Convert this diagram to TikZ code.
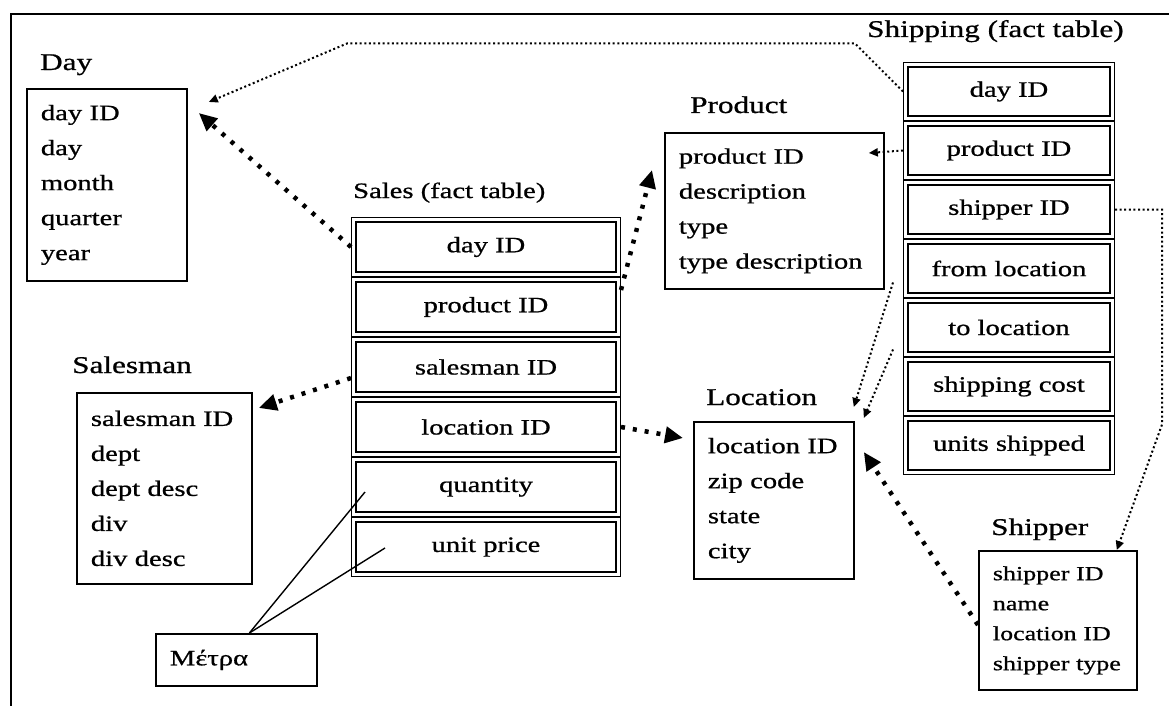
\documentclass[tikz,border=0pt]{standalone}
\usepackage{fontspec}
\setmainfont{Liberation Serif}[FakeStretch=1.3,FakeBold=0.8]
\usetikzlibrary{arrows.meta}

\begin{document}
\begin{tikzpicture}[x=1pt,y=-1pt,
    every node/.style={font=\fontsize{22pt}{35pt}\selectfont},
    title/.style={anchor=base west,inner sep=0pt,font=\fontsize{24pt}{28pt}\selectfont},
    dimbox/.style={draw,line width=1.8pt,align=left,anchor=north west,inner xsep=14pt},
    factrow/.style={draw,line width=1.4pt,double,double distance=2.8pt,outer sep=2.8pt},
    keylink/.style={line width=4.5pt,dash pattern=on 4pt off 8pt,-{Triangle[length=18pt,width=16pt]}},
    reflink/.style={line width=2pt,dash pattern=on 2pt off 2.6pt,-{Triangle[length=9pt,width=8pt]}},
    measure/.style={line width=1.4pt}]
        \useasboundingbox (0,0) rectangle (1169,706);
        \draw[line width=1.8pt] (11,706) -- (11,14) -- (1169,14);

        % dimension tables
        \node[title] (daytitle) at (40,70) {Day};
        \node[dimbox,text width=132pt,minimum height=192pt] (day) at (26,88) {day ID\\day\\month\\quarter\\year};
        \node[title] (prodtitle) at (690,113) {Product};
        \node[dimbox,text width=191pt,minimum height=156pt] (prod) at (664,132) {product ID\\description\\type\\type description};
        \node[title] (smantitle) at (72,373) {Salesman};
        \node[dimbox,text width=147pt,minimum height=191pt] (sman) at (76,392) {salesman ID\\dept\\dept desc\\div\\div desc};
        \node[title] (loctitle) at (706,405) {Location};
        \node[dimbox,text width=132pt,minimum height=157pt] (loc) at (693,421) {location ID\\zip code\\state\\city};
        \node[title] (shiptitle) at (991,535) {Shipper};
        \node[dimbox,text width=130pt,minimum height=139pt,font=\fontsize{20pt}{30pt}\selectfont] (shipper) at (978,550) {shipper ID\\name\\location ID\\shipper type};
        \node[dimbox,text width=133pt,minimum height=52pt] (metra) at (155,633) {Μέτρα};

        % Sales fact table
        \node[title,font=\fontsize{22pt}{28pt}\selectfont] (salestitle) at (353,198) {Sales (fact table)};
        \node[factrow,minimum width=264.4pt,minimum height=54.4pt] (sday) at (486,247) {day ID};
        \node[factrow,minimum width=264.4pt,minimum height=54.4pt] (sprod) at (486,307) {product ID};
        \node[factrow,minimum width=264.4pt,minimum height=54.4pt] (ssman) at (486,367) {salesman ID};
        \node[factrow,minimum width=264.4pt,minimum height=54.4pt] (sloc) at (486,427) {location ID};
        \node[factrow,minimum width=264.4pt,minimum height=54.4pt] (sqty) at (486,487) {quantity};
        \node[factrow,minimum width=264.4pt,minimum height=54.4pt] (sprice) at (486,547) {unit price};

        % Shipping fact table
        \node[title] (shippingtitle) at (867,37) {Shipping (fact table)};
        \node[factrow,minimum width=206.4pt,minimum height=53.4pt] (hday) at (1009,91.5) {day ID};
        \node[factrow,minimum width=206.4pt,minimum height=53.4pt] (hprod) at (1009,150.5) {product ID};
        \node[factrow,minimum width=206.4pt,minimum height=53.4pt] (hship) at (1009,209.5) {shipper ID};
        \node[factrow,minimum width=206.4pt,minimum height=53.4pt] (hfrom) at (1009,268.5) {from location};
        \node[factrow,minimum width=206.4pt,minimum height=53.4pt] (hto) at (1009,327.5) {to location};
        \node[factrow,minimum width=206.4pt,minimum height=53.4pt] (hcost) at (1009,386.5) {shipping cost};
        \node[factrow,minimum width=206.4pt,minimum height=53.4pt] (hunits) at (1009,445.5) {units shipped};

        % foreign keys
        \draw[keylink] (sday.west) -- ([shift={(11,25)}]day.north east);
        \draw[keylink] ([shift={(0,-17)}]sprod.east) -- ([shift={(-12,38)}]prod.north west);
        \draw[keylink] ([shift={(0,11)}]ssman.west) -- ([shift={(6,16)}]sman.north east);
        \draw[keylink] (sloc.east) -- ([shift={(-10,17)}]loc.north west);
        \draw[keylink] ([shift={(0,75)}]shipper.north west) -- ([shift={(9,31)}]loc.north east);
        \draw[reflink] (hday.west) -- ++(-48,-48) -- ++(-508,0) -- ([shift={(21,14)}]day.north east);
        \draw[reflink] (hprod.west) -- ([shift={(-16,21)}]prod.north east);
        \draw[reflink] ([shift={(-10,14)}]hfrom.west) -- ([shift={(-1,-14)}]loc.north east);
        \draw[reflink] ([shift={(-10,22)}]hto.west) -- ([shift={(9,-3)}]loc.north east);
        \draw[reflink] (hship.east) -- ++(47,0) -- ++(0,215) -- ([shift={(-21,0)}]shipper.north east);

        % measures
        \draw[measure] ([shift={(13,0)}]metra.north) -- ([shift={(14,5)}]sqty.west);
        \draw[measure] ([shift={(13,0)}]metra.north) -- ([shift={(34,1)}]sprice.west);
\end{tikzpicture}
\end{document}
